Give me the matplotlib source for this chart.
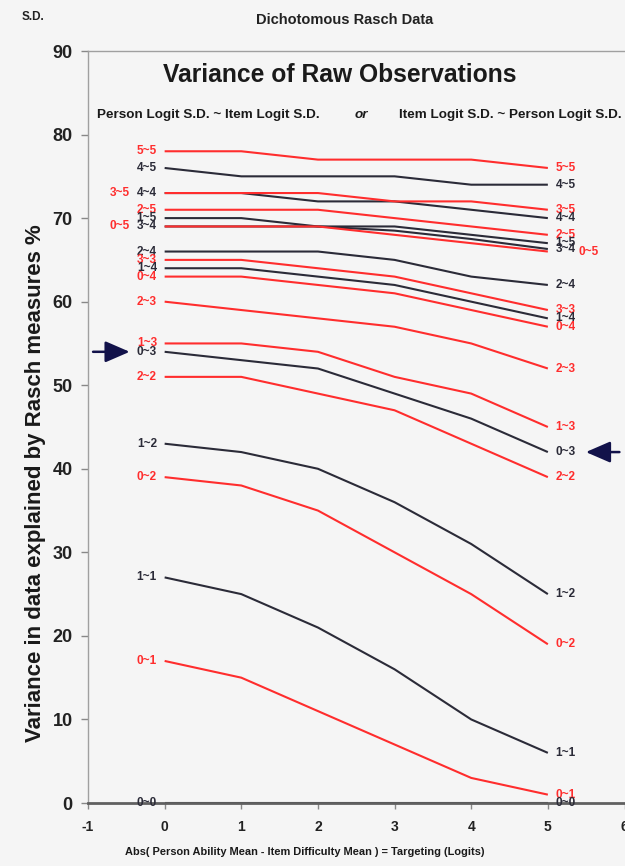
import matplotlib
matplotlib.use("Agg")
import matplotlib.pyplot as plt

plt.rcParams['font.family'] = ['Liberation Sans', 'DejaVu Sans']

targeting = [0, 1, 2, 3, 4, 5]

pairs = ["5~5", "4~5", "3~5", "4~4", "2~5", "1~5", "0~5", "3~4", "2~4", "3~3",
         "1~4", "0~4", "2~3", "1~3", "0~3", "2~2", "1~2", "0~2", "1~1", "0~1", "0~0"]

is_red = [True, False, True, False, True, False, True, False, False, True,
          False, True, True, True, False, True, False, True, False, True, False]

variance = {
    "5~5": [78, 78, 77, 77, 77, 76],
    "4~5": [76, 75, 75, 75, 74, 74],
    "3~5": [73, 73, 73, 72, 72, 71],
    "4~4": [73, 73, 72, 72, 71, 70],
    "2~5": [71, 71, 71, 70, 69, 68],
    "1~5": [70, 70, 69, 69, 68, 67],
    "0~5": [69, 69, 69, 68, 67, 66],
    "3~4": [69, 69, 69, 68.5, 67.5, 66.3],
    "2~4": [66, 66, 66, 65, 63, 62],
    "3~3": [65, 65, 64, 63, 61, 59],
    "1~4": [64, 64, 63, 62, 60, 58],
    "0~4": [63, 63, 62, 61, 59, 57],
    "2~3": [60, 59, 58, 57, 55, 52],
    "1~3": [55, 55, 54, 51, 49, 45],
    "0~3": [54, 53, 52, 49, 46, 42],
    "2~2": [51, 51, 49, 47, 43, 39],
    "1~2": [43, 42, 40, 36, 31, 25],
    "0~2": [39, 38, 35, 30, 25, 19],
    "1~1": [27, 25, 21, 16, 10, 6],
    "0~1": [17, 15, 11, 7, 3, 1],
    "0~0": [0, 0, 0, 0, 0, 0],
}

# labels that sit beside another label instead of stacked
left_shifted = ["3~5", "0~5"]
right_shifted = ["0~5"]

x_ticks = [-1, 0, 1, 2, 3, 4, 5, 6]
y_ticks = [0, 10, 20, 30, 40, 50, 60, 70, 80, 90]

RED = "#ff2d2d"
BLACK = "#2b2b38"
BG = "#f5f5f5"
NAVY = "#12124a"

fig = plt.figure(figsize=(6.25, 8.66), dpi=100, facecolor=BG)
ax = fig.add_axes([88 / 625, 63 / 866, (624.5 - 88) / 625, (803 - 51) / 866])
ax.set_facecolor(BG)

# draw black first, red on top
order = [i for i in range(len(pairs)) if not is_red[i]] + [i for i in range(len(pairs)) if is_red[i]]
for i in order:
    p = pairs[i]
    c = RED if is_red[i] else BLACK
    ax.plot(targeting, variance[p], color=c, lw=1.5, solid_capstyle='butt', zorder=3 if is_red[i] else 2)

for i, p in enumerate(pairs):
    c = RED if is_red[i] else BLACK
    v = variance[p]
    lx = -0.45 if p in left_shifted else -0.1
    ax.text(lx, v[0], p, color=c, fontsize=8.5, fontweight='bold', ha='right', va='center', zorder=4)
    rx = 5.4 if p in right_shifted else 5.1
    ax.text(rx, v[-1], p, color=c, fontsize=8.5, fontweight='bold', ha='left', va='center', zorder=4)

# arrows pointing at the 0~3 series
y_left = variance["0~3"][0]
y_right = variance["0~3"][-1]
ax.annotate("", xy=(-0.42, y_left), xytext=(-0.97, y_left),
            arrowprops=dict(arrowstyle="-|>,head_length=1.5,head_width=0.65", color=NAVY, lw=1.8),
            annotation_clip=False, zorder=5)
ax.annotate("", xy=(5.46, y_right), xytext=(5.97, y_right),
            arrowprops=dict(arrowstyle="-|>,head_length=1.5,head_width=0.65", color=NAVY, lw=1.8),
            annotation_clip=False, zorder=5)

ax.set_xlim(-1, 6)
ax.set_ylim(0, 90)
ax.set_xticks(x_ticks)
ax.set_yticks(y_ticks)
ax.set_xticklabels([str(t) for t in x_ticks], fontsize=10, fontweight='bold', color="#222222")
ax.set_yticklabels([str(t) for t in y_ticks], fontsize=13, fontweight='bold', color="#222222")
ax.tick_params(axis='x', length=4, width=1, color="#888888", pad=8)
ax.tick_params(axis='y', length=5, width=1, color="#888888", pad=6)

for s in ["left", "top"]:
    ax.spines[s].set_color("#a0a0a0")
    ax.spines[s].set_linewidth(1.0)
ax.spines["bottom"].set_color("#606060")
ax.spines["bottom"].set_linewidth(2.0)
ax.spines["right"].set_visible(False)

fig.text(22 / 625, 1 - 17 / 866, "S.D.", fontsize=8.5, fontweight='bold', ha='left', va='center', color="#222222")
fig.text(345 / 625, 1 - 20 / 866, "Dichotomous Rasch Data", fontsize=10.5, fontweight='bold', ha='center', va='center', color="#222222")
fig.text(340 / 625, 1 - 75 / 866, "Variance of Raw Observations", fontsize=17.7, fontweight='bold', ha='center', va='center', color="#1a1a1a")
fig.text(97 / 625, 1 - 115 / 866, "Person Logit S.D. ~ Item Logit S.D.", fontsize=9.7, fontweight='bold', ha='left', va='center', color="#1a1a1a")
fig.text(361 / 625, 1 - 115 / 866, "or", fontsize=9.7, fontweight='bold', style='italic', ha='center', va='center', color="#1a1a1a")
fig.text(622 / 625, 1 - 115 / 866, "Item Logit S.D. ~ Person Logit S.D.", fontsize=9.7, fontweight='bold', ha='right', va='center', color="#1a1a1a")

fig.text(36 / 625, 1 - 483 / 866, "Variance in data explained by Rasch measures %", fontsize=16, fontweight='bold',
         rotation=90, ha='center', va='center', color="#1a1a1a")
fig.text(305 / 625, 1 - 852 / 866, "Abs( Person Ability Mean - Item Difficulty Mean ) = Targeting (Logits)",
         fontsize=7.9, fontweight='bold', ha='center', va='center', color="#1a1a1a")

fig.savefig("out.png", dpi=100, facecolor=BG)
